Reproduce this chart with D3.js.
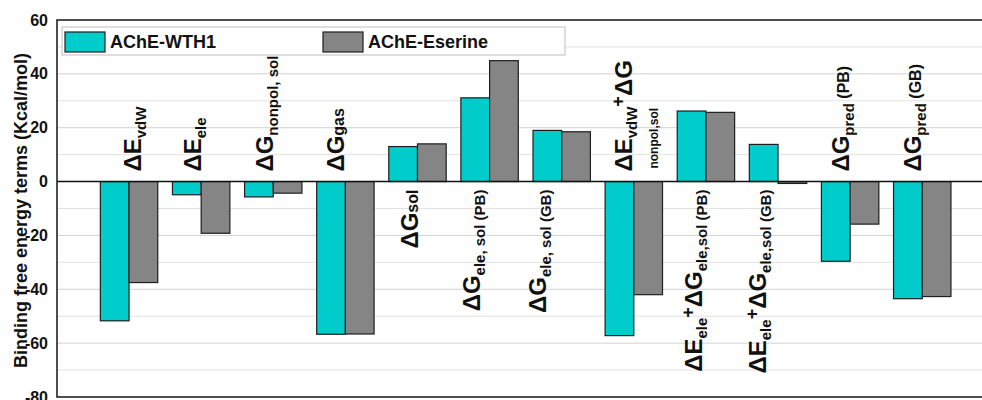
<!DOCTYPE html>
<html>
<head>
<meta charset="utf-8">
<script src="https://cdn.jsdelivr.net/npm/d3@7/dist/d3.min.js"></script>
<style>
  html, body { margin: 0; padding: 0; background: #fff; }
  svg { display: block; font-family: 'Liberation Sans', Arial, sans-serif; }
</style>
</head>
<body>
<div id="chart"></div>
<script>
// Data
const categories = ['EvdW', 'Eele', 'Gnonpol', 'Ggas', 'Gsol', 'GelePB', 'GeleGB',
  'EvdW+Gnonpol', 'Eele+GelePB', 'Eele+GeleGB', 'GpredPB', 'GpredGB'];
const seriesNames = ['AChE-WTH1', 'AChE-Eserine'];
const wth1Values = [-51.7, -4.9, -5.7, -56.7, 13.0, 31.1, 19.0, -57.2, 26.2, 13.8, -29.6, -43.5];
const eserineValues = [-37.5, -19.2, -4.3, -56.6, 14.0, 44.9, 18.5, -42.0, 25.7, -0.7, -15.8, -42.7];
const yTicks = [-80, -60, -40, -20, 0, 20, 40, 60];
const yMinorTicks = [-70, -50, -30, -10, 10, 30, 50];
const yTitle = 'Binding free energy terms (Kcal/mol)';

// label pieces: m = main, s = subscript, p = superscript, n = small on baseline
const labelParts = [
  [['m', 'ΔE'], ['s', 'vdW']],
  [['m', 'ΔE'], ['s', 'ele']],
  [['m', 'ΔG'], ['s', 'nonpol, sol']],
  [['m', 'ΔG'], ['n', 'gas']],
  [['m', 'ΔG'], ['n', 'sol']],
  [['m', 'ΔG'], ['s', 'ele, sol (PB)']],
  [['m', 'ΔG'], ['s', 'ele, sol (GB)']],
  [['m', 'ΔE'], ['s', 'vdW'], ['p', '+'], ['m', 'ΔG']],
  [['m', 'ΔE'], ['s', 'ele'], ['p', '+'], ['m', 'ΔG'], ['s', 'ele,sol (PB)']],
  [['m', 'ΔE'], ['s', 'ele'], ['p', '+'], ['m', 'ΔG'], ['s', 'ele,sol (GB)']],
  [['m', 'ΔG'], ['s', 'pred'], ['n', ' (PB)']],
  [['m', 'ΔG'], ['s', 'pred'], ['n', ' (GB)']]
];
const extraLabel = { index: 7, text: 'nonpol,sol' };

// label horizontal nudges (px from group centre)
const labelDx = [3, -9, -9, -10, -8, -18, -24, -10, -12, -21, -10, -10];

const width = 982, height = 400;
const margin = { top: 20, right: 0, bottom: 3, left: 57 };
const plotRight = 982;

const svg = d3.select('#chart').append('svg')
  .attr('width', width).attr('height', height);

const y = d3.scaleLinear().domain([-80, 60]).range([height - margin.bottom, margin.top]);
const x0 = d3.scaleBand().domain(categories).range([93, 958.3]).padding(0);
const x1 = d3.scaleBand().domain(seriesNames).range([0, x0.bandwidth()]).paddingInner(0).paddingOuter(0.256);
const colors = { 'AChE-WTH1': '#00CCCC', 'AChE-Eserine': '#858585' };

// Grid
svg.append('g').selectAll('line').data(yMinorTicks).enter().append('line')
  .attr('x1', margin.left).attr('x2', plotRight)
  .attr('y1', d => y(d)).attr('y2', d => y(d))
  .attr('stroke', '#e2e2e2').attr('stroke-width', 1);
svg.append('g').selectAll('line').data(yTicks.filter(d => d !== 0 && d !== 60 && d !== -80)).enter().append('line')
  .attr('x1', margin.left).attr('x2', plotRight)
  .attr('y1', d => y(d)).attr('y2', d => y(d))
  .attr('stroke', '#d2d2d2').attr('stroke-width', 1);

// Bars
const groups = svg.selectAll('.grp').data(categories).enter().append('g')
  .attr('transform', d => `translate(${x0(d)},0)`);
const seriesData = [wth1Values, eserineValues];
seriesNames.forEach((name, si) => {
  groups.append('rect')
    .attr('x', x1(name))
    .attr('width', x1.bandwidth())
    .attr('y', (d, i) => Math.min(y(seriesData[si][i]), y(0)))
    .attr('height', (d, i) => Math.abs(y(seriesData[si][i]) - y(0)))
    .attr('fill', colors[name])
    .attr('stroke', '#1e1e1e').attr('stroke-width', 1.2);
});

// Zero line + frame
svg.append('line')
  .attr('x1', margin.left).attr('x2', plotRight)
  .attr('y1', y(0)).attr('y2', y(0))
  .attr('stroke', '#111').attr('stroke-width', 1.6);
svg.append('rect')
  .attr('x', margin.left).attr('y', y(60))
  .attr('width', plotRight - margin.left + 5).attr('height', y(-80) - y(60))
  .attr('fill', 'none').attr('stroke', '#222').attr('stroke-width', 1.6);

// Y axis
const yAxis = svg.append('g').attr('transform', `translate(${margin.left},0)`)
  .call(d3.axisLeft(y).tickValues(yTicks).tickSize(0).tickPadding(9).tickFormat(d => String(d)));
yAxis.select('.domain').remove();
yAxis.selectAll('text')
  .attr('fill', '#111').attr('font-size', '16px').attr('font-weight', 'bold')
  .attr('font-family', "'Liberation Sans', Arial, sans-serif");

svg.append('text')
  .attr('transform', `translate(27,${(y(60) + y(-80)) / 2 + 2}) rotate(-90)`)
  .attr('text-anchor', 'middle')
  .attr('font-size', '18px').attr('font-weight', 'bold').attr('fill', '#111')
  .text(yTitle);

// Category labels (rotated rich text)
const sizes = { m: 24, s: 15, p: 18, n: 16 };
const shifts = { m: 0, s: 5, p: -8, n: 0 };
categories.forEach((c, i) => {
  const minV = Math.min(wth1Values[i], eserineValues[i]);
  const above = i !== 4 && i !== 5 && i !== 6 && i !== 8 && i !== 9;
  const cx = x0(c) + x0.bandwidth() / 2 + labelDx[i] + 8.5;
  const yy = above ? y(0) - 10 : y(0) + 8;
  const t = svg.append('text')
    .attr('transform', `translate(${cx},${yy}) rotate(-90)`)
    .attr('text-anchor', above ? 'start' : 'end')
    .attr('font-weight', 'bold').attr('fill', '#111');
  let cur = 0;
  labelParts[i].forEach(([k, txt]) => {
    t.append('tspan')
      .attr('dy', shifts[k] - cur)
      .attr('font-size', sizes[k] + 'px')
      .text(txt);
    cur = shifts[k];
  });
  if (extraLabel.index === i) {
    svg.append('text')
      .attr('transform', `translate(${x0(c) + x0.bandwidth() / 2 + 20 + 4.5},${y(0) - 13}) rotate(-90)`)
      .attr('text-anchor', 'start')
      .attr('font-weight', 'bold').attr('font-size', '12px').attr('fill', '#111')
      .text(extraLabel.text);
  }
});

// Legend
const lg = svg.append('g');
lg.append('rect').attr('x', 62).attr('y', 27).attr('width', 503).attr('height', 28)
  .attr('fill', '#fff').attr('stroke', '#bdbdbd').attr('stroke-width', 1);
seriesNames.forEach((name, i) => {
  const gx = 65 + i * 258;
  lg.append('rect').attr('x', gx).attr('y', 32).attr('width', 40).attr('height', 20)
    .attr('fill', colors[name]).attr('stroke', '#1e1e1e').attr('stroke-width', 1.2);
  lg.append('text').attr('x', gx + 45).attr('y', 48)
    .attr('font-size', '18px').attr('font-weight', 'bold').attr('fill', '#111')
    .text(name);
});
</script>
</body>
</html>
